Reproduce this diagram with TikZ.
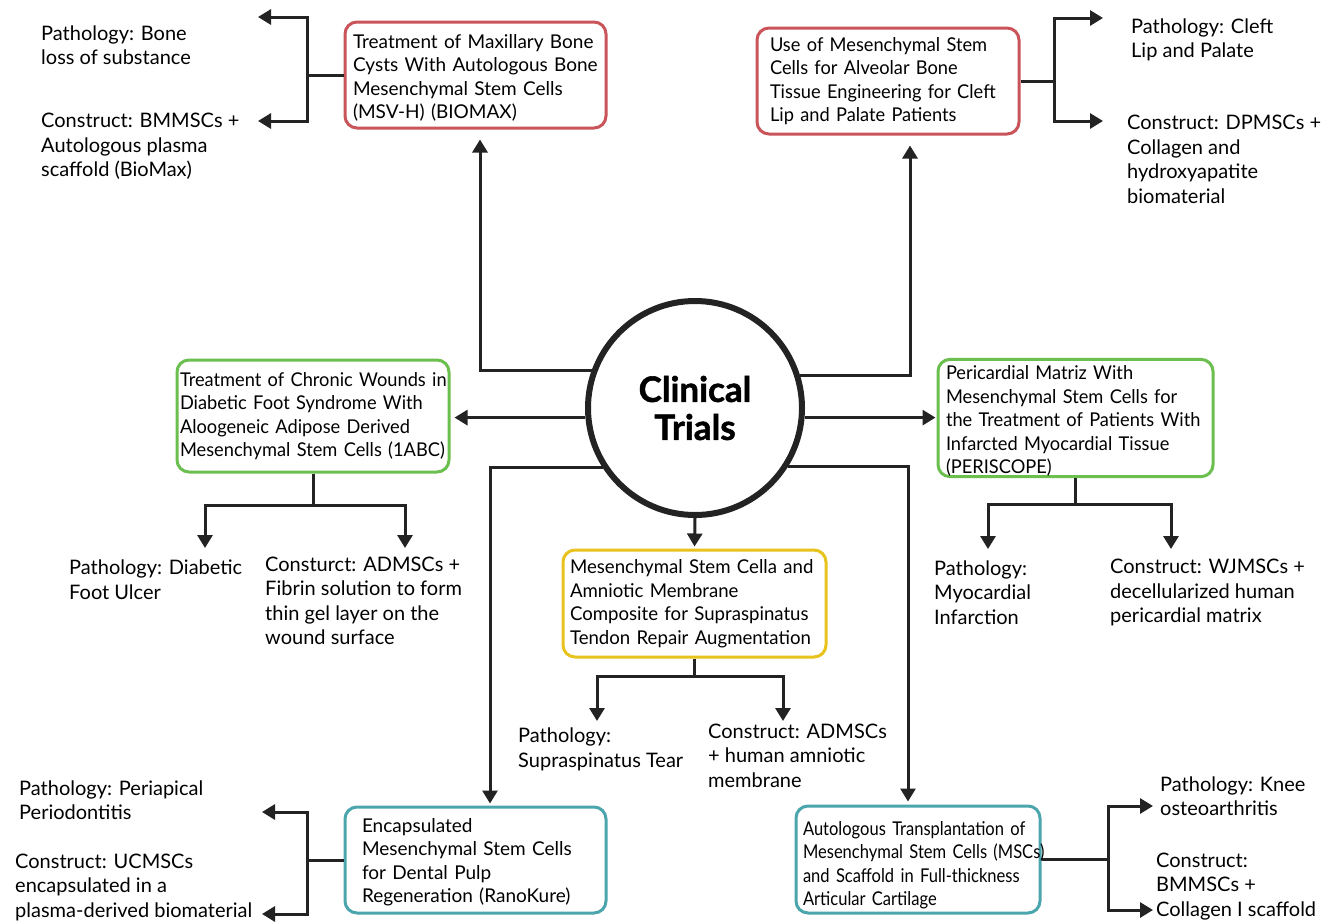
\documentclass[tikz,border=0pt]{standalone}
\usepackage{fontspec}
\setmainfont{Lato}
\usetikzlibrary{arrows.meta}
\definecolor{cred}{HTML}{C9545A}
\definecolor{cgreen}{HTML}{6BBF4E}
\definecolor{cyellow}{HTML}{E8C31E}
\definecolor{cteal}{HTML}{4AA5AD}
\definecolor{cline}{HTML}{232323}
\tikzset{
 ln/.style={draw=cline, line width=3pt},
 arr/.style={ln, -{Triangle[length=13pt,width=15pt]}},
 box/.style={draw, line width=3pt, rounded corners=12pt, align=left, inner ysep=0pt, font=\fontsize{19}{23.5}\selectfont, text=black},
 st/.style={font=\fontsize{19}{23.5}\selectfont\addfontfeature{FakeStretch=#1}},
 lab/.style={anchor=west, align=left, inner sep=0pt, font=\fontsize{20}{24.5}\selectfont},
}
\newcommand\bl[1]{\mbox{#1}}
\newcommand\tp[1]{\rule{0pt}{#1pt}}
\begin{document}
\begin{tikzpicture}[x=1pt,y=-1pt]
\fill[white] (0,0) rectangle (1331,922);
\useasboundingbox (0,0) rectangle (1331,922);

% boxes
\node[box, draw=cred, text width=245pt, inner xsep=8pt, minimum height=106pt] (rtl) at (475.5,75)
 {\bl{\tp{19.5}Treatment of Maxillary Bone}\\\bl{Cysts With Autologous Bone}\\\bl{Mesenchymal Stem Cells}\\\bl{(MSV-H) (BIOMAX)}};
\node[box, st=0.96, draw=cred, text width=236pt, inner xsep=13pt, minimum height=106pt] (rtr) at (888,81)
 {\bl{Use of Mesenchymal Stem}\\\bl{Cells for Alveolar Bone}\\\bl{Tissue Engineering for Cleft}\\\bl{Lip and Palate Patients}};
\node[box, st=0.96, draw=cgreen, text width=266pt, inner xsep=3pt, minimum height=112pt] (gl) at (313,416)
 {\bl{Treatment of Chronic Wounds in}\\\bl{Diabetic Foot Syndrome With}\\\bl{Aloogeneic Adipose Derived}\\\bl{Mesenchymal Stem Cells (1ABC)}};
\node[box, st=0.96, draw=cgreen, text width=259pt, inner xsep=8pt, minimum height=116pt] (gr) at (1075.5,418)
 {\bl{\tp{20.5}Pericardial Matriz With}\\\bl{Mesenchymal Stem Cells for}\\\bl{the Treatment of Patients With}\\\bl{Infarcted Myocardial Tissue}\\\bl{(PERISCOPE)}};
\node[box, st=0.98, draw=cyellow, text width=249pt, inner xsep=7pt, minimum height=107pt] (yel) at (694.5,603.5)
 {\bl{Mesenchymal Stem Cella and}\\\bl{Amniotic Membrane}\\\bl{Composite for Supraspinatus}\\\bl{Tendon Repair Augmentation}};
\node[box, draw=cteal, text width=227pt, inner xsep=17pt, minimum height=106pt] (tl) at (475.5,860)
 {\bl{\tp{18.5}Encapsulated}\\\bl{Mesenchymal Stem Cells}\\\bl{for Dental Pulp}\\\bl{Regeneration (RanoKure)}};
\node[box, st=0.87, draw=cteal, text width=230pt, inner xsep=7pt, minimum height=107pt] (tr) at (918,859.5)
 {\bl{\tp{25.5}Autologous Transplantation of}\\\bl{Mesenchymal Stem Cells (MSCs)}\\\bl{and Scaffold in Full-thickness}\\\bl{Articular Cartilage}};

% center
\node[circle, draw=cline, line width=6pt, minimum size=214pt, inner sep=0pt, fill=white, align=center,
 font=\fontsize{35}{38}\selectfont\bfseries\addfontfeature{FakeBold=1.5}] (ct) at (695,408) {Clinical\\Trials};

% labels
\node[lab] (l1) at (41,45) {Pathology: Bone\\loss of substance};
\node[lab] (l2) at (41,146.5) {Construct: BMMSCs +\\Autologous plasma\\scaffold (BioMax)};
\node[lab] (l3) at (1131,40) {Pathology: Cleft\\Lip and Palate};
\node[lab] (l4) at (1127,159.5) {Construct: DPMSCs +\\Collagen and\\hydroxyapatite\\biomaterial};
\node[lab] (l5) at (69,579.5) {Pathology: Diabetic\\Foot Ulcer};
\node[lab] (l6) at (265,601) {Consturct: ADMSCs +\\Fibrin solution to form\\thin gel layer on the\\wound surface};
\node[lab] (l7) at (934,592.5) {Pathology:\\Myocardial\\Infarction};
\node[lab] (l8) at (1110,592.5) {Construct: WJMSCs +\\decellularized human\\pericardial matrix};
\node[lab] (l9) at (518,749.5) {Pathology:\\Supraspinatus Tear};
\node[lab] (l10) at (708,755.5) {Construct: ADMSCs\\+ human amniotic\\membrane};
\node[lab] (l11) at (19,800) {Pathology: Periapical\\Periodontitis};
\node[lab] (l12) at (15,887) {Construct: UCMSCs\\encapsulated in a\\plasma-derived biomaterial};
\node[lab] (l13) at (1160,796) {Pathology: Knee\\osteoarthritis};
\node[lab] (l14) at (1156,886.5) {Construct:\\BMMSCs +\\Collagen I scaffold};

% center connectors
\draw[arr, shorten >=10pt] (ct.160.5) -| ([xshift=4.5pt]rtl.south);
\draw[arr, shorten >=10pt] (ct.17.8) -| ([xshift=22pt]rtr.south);
\draw[arr, shorten >=4pt] (ct.185.8) -- (ct.185.8 -| gl.east);
\draw[arr, shorten >=1pt] (ct.355.8) -- (ct.355.8 -| gr.west);
\draw[arr, shorten >=2pt] (ct.213.1) -| ([xshift=14.5pt]tl.north);
\draw[arr, shorten >=3pt] (ct.328.1) -| ([xshift=-10pt]tr.north);
\draw[arr, shorten >=2pt] (ct.south) -- (yel.north);

% branches
\coordinate (rtlj) at (307,75);
\coordinate (rtla) at (258,17);
\coordinate (rtlb) at (258,121);
\draw[ln] (rtl.west) -- (rtlj);
\draw[arr] (rtlj) |- (rtla);
\draw[arr] (rtlj) |- (rtlb);

\coordinate (rtrj) at (1054,81);
\coordinate (rtra) at (1103,18);
\coordinate (rtrb) at (1103,121);
\draw[ln] (rtr.east) -- (rtrj);
\draw[arr] (rtrj) |- (rtra);
\draw[arr] (rtrj) |- (rtrb);

\coordinate (glj) at (313,505);
\coordinate (gla) at (205,548);
\coordinate (glb) at (405,548);
\draw[ln] (gl.south) -- (glj);
\draw[arr] (glj) -| (gla);
\draw[arr] (glj) -| (glb);

\coordinate (grj) at (1075.5,504);
\coordinate (gra) at (988,549);
\coordinate (grb) at (1171,549);
\draw[ln] (gr.south) -- (grj);
\draw[arr] (grj) -| (gra);
\draw[arr] (grj) -| (grb);

\coordinate (yelj) at (694.5,676);
\coordinate (yela) at (597,721);
\coordinate (yelb) at (783,721);
\draw[ln] (yel.south) -- (yelj);
\draw[arr] (yelj) -| (yela);
\draw[arr] (yelj) -| (yelb);

\coordinate (tlj) at (307,860);
\coordinate (tla) at (262,812);
\coordinate (tlb) at (262,914);
\draw[ln] (tl.west) -- (tlj);
\draw[arr] (tlj) |- (tla);
\draw[arr] (tlj) |- (tlb);

\coordinate (trj) at (1108,859.5);
\coordinate (tra) at (1153,806);
\coordinate (trb) at (1153,910);
\draw[ln] (tr.east) -- (trj);
\draw[arr] (trj) |- (tra);
\draw[arr] (trj) |- (trb);
\end{tikzpicture}
\end{document}
